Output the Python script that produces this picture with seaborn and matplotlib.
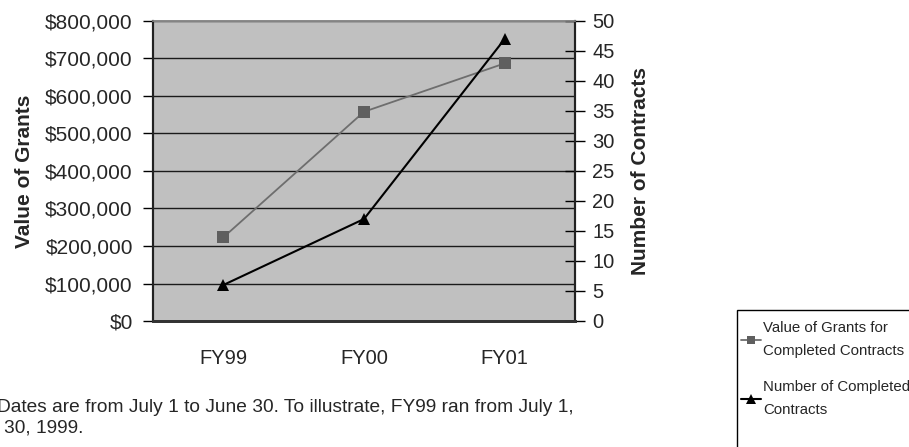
import matplotlib
matplotlib.use("Agg")
import matplotlib.pyplot as plt
import seaborn as sns
import pandas as pd
from matplotlib.ticker import FuncFormatter
from matplotlib.lines import Line2D
from matplotlib.patches import Rectangle

years = ["FY99", "FY00", "FY01"]
grant_values = [223000, 558000, 687000]
contract_counts = [6, 17, 47]
grant_label = "Value of Grants for\nCompleted Contracts"
count_label = "Number of Completed\nContracts"
footnote_1 = "Dates are from July 1 to June 30. To illustrate, FY99 ran from July 1,"
footnote_2 = "30, 1999."

sns.set_style("white")
plt.rcParams["font.family"] = ["Liberation Sans", "DejaVu Sans"]

df = pd.DataFrame({"year": years, "grants": grant_values, "contracts": contract_counts})
df["pos"] = range(len(years))

W, H = 909, 447
fig = plt.figure(figsize=(W / 100, H / 100), dpi=100)
L, R, T, B = 153, 575, 21, 321
ax = fig.add_axes([L / W, 1 - B / H, (R - L) / W, (B - T) / H])
ax.set_facecolor("#C0C0C0")
ax2 = ax.twinx()

grey_line = "#6E6E6E"
sns.lineplot(data=df, x="pos", y="grants", ax=ax, color=grey_line, lw=1.3,
             marker="s", markersize=8, markerfacecolor="#5F5F5F",
             markeredgewidth=0, zorder=5)
sns.lineplot(data=df, x="pos", y="contracts", ax=ax2, color="black", lw=1.5,
             marker="^", markersize=9, markerfacecolor="black",
             markeredgewidth=0, zorder=5)

ax.set_xlim(-0.5, len(years) - 0.5)
ax.set_ylim(0, 800000)
ax2.set_ylim(0, 50)
ax.set_yticks(range(0, 800001, 100000))
ax2.set_yticks(range(0, 51, 5))
ax.yaxis.set_major_formatter(FuncFormatter(lambda v, p: f"${v:,.0f}"))

ax.set_xticks([i + 0.5 for i in range(-1, len(years))])
ax.set_xticklabels([])
ax.set_xticks(range(len(years)), minor=True)
ax.set_xticklabels(years, minor=True)
ax.tick_params(axis="x", which="major", direction="out", length=6, width=1, color="black")
ax.tick_params(axis="x", which="minor", length=0, pad=20, labelsize=14.5)
ax.tick_params(axis="y", direction="out", length=7, width=1, color="black",
               labelsize=15, pad=7.5, left=True)
ax2.tick_params(axis="y", direction="inout", length=14, width=1, color="black",
                labelsize=14.5, pad=5.5, right=True)

ax.grid(axis="y", color="#1A1A1A", lw=1)
ax.set_axisbelow(True)
for a in (ax, ax2):
    a.spines["top"].set_color("#888888")
    a.spines["top"].set_linewidth(1.2)
    a.spines["left"].set_color("#222222")
    a.spines["left"].set_linewidth(1.5)
    a.spines["right"].set_color("#222222")
    a.spines["right"].set_linewidth(1.5)
    a.spines["bottom"].set_color("#333333")
    a.spines["bottom"].set_linewidth(2)
    a.set_xlabel("")

ax.set_ylabel("Value of Grants", fontsize=15, fontweight="bold")
ax.yaxis.set_label_coords((34 - L) / (R - L), 0.5)
ax2.set_ylabel("Number of Contracts", fontsize=15, fontweight="bold")
ax2.yaxis.set_label_coords((631 - L) / (R - L), 0.5)

# legend frame (extends past the figure edge as in the reference)
fig.patches.append(Rectangle((737 / W, -0.1), 0.3, 1 - 310 / H + 0.1,
                             transform=fig.transFigure, facecolor="white",
                             edgecolor="black", lw=1, zorder=1))
handles = [
    Line2D([], [], color=grey_line, lw=1.3, marker="s", markersize=6,
           markerfacecolor="#5F5F5F", markeredgewidth=0),
    Line2D([], [], color="black", lw=1.5, marker="^", markersize=7,
           markerfacecolor="black", markeredgewidth=0),
]
leg = fig.legend(handles, [grant_label, count_label], loc="upper left",
                 bbox_to_anchor=(741 / W, 1 - 321 / H), frameon=False,
                 fontsize=10.8, handlelength=1.3, handletextpad=0.15,
                 labelspacing=1.5, borderpad=0, borderaxespad=0)
for t in leg.get_texts():
    t.set_linespacing(1.8)

fig.text(-3 / W, 1 - 407 / H, footnote_1, fontsize=13.8, va="center", ha="left")
fig.text(4 / W, 1 - 428 / H, footnote_2, fontsize=13.8, va="center", ha="left")

fig.savefig("out.png", dpi=100)
